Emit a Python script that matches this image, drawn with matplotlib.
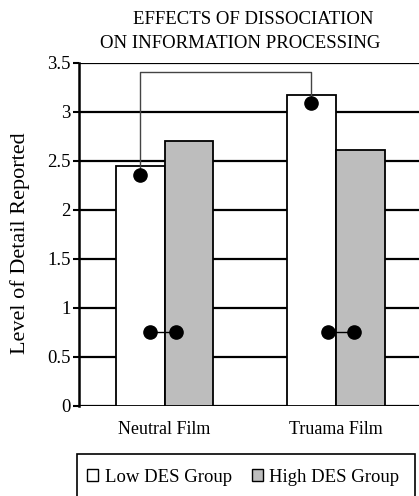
import numpy as np
import matplotlib
matplotlib.use("Agg")
import matplotlib.pyplot as plt
from matplotlib.patches import Patch, Rectangle

plt.rcParams['font.family'] = ['Liberation Serif', 'DejaVu Serif']

# data
categories = ["Neutral Film", "Truama Film"]
low_des = [2.45, 3.17]
high_des = [2.70, 2.61]
series_names = ["Low DES Group", "High DES Group"]
yticks = [0, 0.5, 1, 1.5, 2, 2.5, 3, 3.5]
bracket_dots = [2.35, 3.09]   # dots inside low DES bars
bracket_top = 3.40
pair_dot_level = 0.75          # the little dumbbell marks

fig = plt.figure(figsize=(4.19, 4.96), dpi=100)
ax = fig.add_axes([79/419, 90.5/496, 342.5/419, 342.8/496])

x = np.arange(len(categories))
w = 0.285
ax.bar(x - w/2, low_des, w, color="white", edgecolor="black", linewidth=1.3, zorder=3)
ax.bar(x + w/2, high_des, w, color="#bdbdbd", edgecolor="black", linewidth=1.3, zorder=3)

# bracket joining the two low DES dots
bx = [x[0] - w/2, x[0] - w/2, x[1] - w/2, x[1] - w/2]
by = [bracket_dots[0], bracket_top, bracket_top, bracket_dots[1]]
ax.plot(bx, by, color="#444444", linewidth=1.0, zorder=4)
ax.plot(x - w/2, bracket_dots, "o", color="black", markersize=9.5, zorder=5)

# dumbbell marks near the bottom
offs = [(-0.084, 0.064), (-0.047, 0.105)]
for xi, (a, b) in zip(x, offs):
    ax.plot([xi + a, xi + b], [pair_dot_level, pair_dot_level], "-o", color="black",
            markersize=9.5, linewidth=1.0, zorder=5)

ax.set_xlim(-0.5, 1.5)
ax.set_ylim(0, 3.5)
ax.set_yticks(yticks)
ax.set_yticklabels(["0", "0.5", "1", "1.5", "2", "2.5", "3", "3.5"], fontsize=13.5)
ax.set_xticks(x)
ax.set_xticklabels(categories, fontsize=13)
ax.tick_params(axis="x", length=0, pad=11)
ax.tick_params(axis="y", length=4, width=1.5, pad=2, direction="out")

for yv in yticks:
    ax.axhline(yv, color="black", linewidth=1.6, zorder=1)
for s in ["top", "right", "bottom"]:
    ax.spines[s].set_visible(False)
ax.spines["left"].set_linewidth(1.8)
ax.spines["left"].set_zorder(6)

fig.text(20/419, 1 - 243/496, "Level of Detail Reported", rotation=90,
         ha="center", va="center", fontsize=16)
fig.text(253/419, 1 - 19/496, "EFFECTS OF DISSOCIATION", ha="center", va="center", fontsize=13.5)
fig.text(240/419, 1 - 43/496, "ON INFORMATION PROCESSING", ha="center", va="center", fontsize=13.5)

handles = [Patch(facecolor="white", edgecolor="black", linewidth=1.0),
           Patch(facecolor="#bdbdbd", edgecolor="black", linewidth=1.0)]
fig.legend(handles, series_names, loc="center left", bbox_to_anchor=(87/419, 1 - 477/496),
           ncol=2, frameon=False, fontsize=13.5, handlelength=0.6, handleheight=0.6,
           handletextpad=0.35, columnspacing=1.05, borderpad=0, borderaxespad=0)
fig.patches.append(Rectangle((77/419, -0.05), 338/419, 0.05 + 42/496, transform=fig.transFigure,
                             facecolor="none", edgecolor="black", linewidth=1.2))

fig.savefig("out.png", dpi=100)
